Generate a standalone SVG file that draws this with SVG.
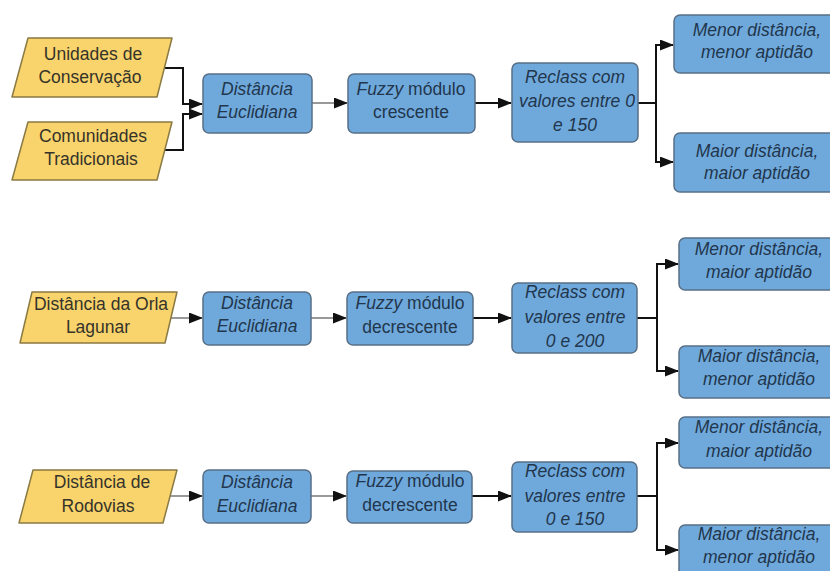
<svg xmlns="http://www.w3.org/2000/svg" width="830" height="571" viewBox="0 0 830 571">
<defs>
<marker id="ah" markerUnits="userSpaceOnUse" markerWidth="14" markerHeight="11" refX="13" refY="5.5" orient="auto">
<path d="M0,0 L14,5.5 L0,11 Z" fill="#111"/>
</marker>
<style>
.b{fill:#6fa9dc;stroke:#586f86;stroke-width:1.5}
.y{fill:#f9d36b;stroke:#8a7a44;stroke-width:1.5;stroke-linejoin:round}
text{font-family:"Liberation Sans",Arial,sans-serif;font-size:17.5px;text-anchor:middle}
.bt{fill:#22364c;font-style:italic}
.bn{fill:#22364c}
.yt{fill:#35342a}
.thin{stroke:#777;stroke-width:1.5;fill:none}
.thick{stroke:#111;stroke-width:2;fill:none}
</style>
</defs>
<rect width="830" height="571" fill="#fff"/>

<g id="connectors">
<path class="thick" d="M164,68 H183 V104 H202" marker-end="url(#ah)"/>
<path class="thick" d="M160,150 H183 V114 H202" marker-end="url(#ah)"/>
<path class="thin" d="M312,103 H347" marker-end="url(#ah)"/>
<path class="thick" d="M475,103 H511" marker-end="url(#ah)"/>
<path class="thick" d="M638,103 H656"/>
<path class="thick" d="M656,45 V162"/>
<path class="thick" d="M655,45 H673" marker-end="url(#ah)"/>
<path class="thick" d="M655,162 H673" marker-end="url(#ah)"/>

<path class="thin" d="M171,318 H202" marker-end="url(#ah)"/>
<path class="thin" d="M311,318 H346" marker-end="url(#ah)"/>
<path class="thick" d="M473,318 H511" marker-end="url(#ah)"/>
<path class="thick" d="M637,318 H657"/>
<path class="thick" d="M657,264 V371"/>
<path class="thick" d="M656,264 H678" marker-end="url(#ah)"/>
<path class="thick" d="M656,371 H678" marker-end="url(#ah)"/>

<path class="thin" d="M170,496 H202" marker-end="url(#ah)"/>
<path class="thin" d="M311,496 H346" marker-end="url(#ah)"/>
<path class="thick" d="M472,496 H511" marker-end="url(#ah)"/>
<path class="thick" d="M637,496 H657"/>
<path class="thick" d="M657,443 V550"/>
<path class="thick" d="M656,443 H678" marker-end="url(#ah)"/>
<path class="thick" d="M656,550 H678" marker-end="url(#ah)"/>
</g>

<g id="uc">
<path class="y" d="M28,38 H172 L157,97 H12 Z"/>
<text class="yt" x="93" y="60">Unidades de</text>
<text class="yt" x="90" y="83">Conservação</text>
</g>
<g id="ct">
<path class="y" d="M28,122 H172 L157,180 H12 Z"/>
<text class="yt" x="93" y="142">Comunidades</text>
<text class="yt" x="91" y="165">Tradicionais</text>
</g>
<g id="de1">
<rect class="b" x="203" y="74" width="109" height="59" rx="6"/>
<text class="bt" x="257" y="95">Distância</text>
<text class="bt" x="257" y="118">Euclidiana</text>
</g>
<g id="fz1">
<rect class="b" x="348" y="74" width="127" height="59" rx="6"/>
<text class="bn" x="411" y="95"><tspan font-style="italic">Fuzzy</tspan> módulo</text>
<text class="bn" x="411" y="118">crescente</text>
</g>
<g id="rc1">
<rect class="b" x="512" y="63" width="126" height="79" rx="6"/>
<text class="bt" x="575" y="83">Reclass com</text>
<text class="bt" x="577" y="107">valores entre 0</text>
<text class="bt" x="575" y="131">e 150</text>
</g>
<g id="mn1">
<rect class="b" x="674" y="15" width="166" height="58" rx="6"/>
<text class="bt" x="757" y="36">Menor distância,</text>
<text class="bt" x="757" y="58">menor aptidão</text>
</g>
<g id="mx1">
<rect class="b" x="674" y="133" width="166" height="59" rx="6"/>
<text class="bt" x="757" y="157">Maior distância,</text>
<text class="bt" x="757" y="179">maior aptidão</text>
</g>

<g id="orla">
<path class="y" d="M32,292 H177 L165,343 H20 Z"/>
<text class="yt" x="101" y="310">Distância da Orla</text>
<text class="yt" x="98" y="333">Lagunar</text>
</g>
<g id="de2">
<rect class="b" x="203" y="292" width="108" height="53" rx="6"/>
<text class="bt" x="257" y="309">Distância</text>
<text class="bt" x="257" y="332">Euclidiana</text>
</g>
<g id="fz2">
<rect class="b" x="347" y="292" width="126" height="53" rx="6"/>
<text class="bn" x="410" y="309"><tspan font-style="italic">Fuzzy</tspan> módulo</text>
<text class="bn" x="410" y="333">decrescente</text>
</g>
<g id="rc2">
<rect class="b" x="512" y="283" width="125" height="70" rx="6"/>
<text class="bt" x="575" y="298">Reclass com</text>
<text class="bt" x="575" y="323">valores entre</text>
<text class="bt" x="575" y="347">0 e 200</text>
</g>
<g id="mn2">
<rect class="b" x="679" y="238" width="161" height="52" rx="6"/>
<text class="bt" x="759" y="255">Menor distância,</text>
<text class="bt" x="759" y="278">maior aptidão</text>
</g>
<g id="mx2">
<rect class="b" x="679" y="346" width="161" height="52" rx="6"/>
<text class="bt" x="759" y="362">Maior distância,</text>
<text class="bt" x="759" y="385">menor aptidão</text>
</g>

<g id="rod">
<path class="y" d="M33,470 H177 L163,523 H19 Z"/>
<text class="yt" x="102" y="488">Distância de</text>
<text class="yt" x="98" y="512">Rodovias</text>
</g>
<g id="de3">
<rect class="b" x="203" y="470" width="108" height="53" rx="6"/>
<text class="bt" x="257" y="488">Distância</text>
<text class="bt" x="257" y="512">Euclidiana</text>
</g>
<g id="fz3">
<rect class="b" x="347" y="471" width="125" height="52" rx="6"/>
<text class="bn" x="410" y="487"><tspan font-style="italic">Fuzzy</tspan> módulo</text>
<text class="bn" x="410" y="511">decrescente</text>
</g>
<g id="rc3">
<rect class="b" x="512" y="462" width="125" height="70" rx="6"/>
<text class="bt" x="575" y="477">Reclass com</text>
<text class="bt" x="575" y="502">valores entre</text>
<text class="bt" x="575" y="525">0 e 150</text>
</g>
<g id="mn3">
<rect class="b" x="679" y="417" width="161" height="51" rx="6"/>
<text class="bt" x="759" y="433">Menor distância,</text>
<text class="bt" x="759" y="457">maior aptidão</text>
</g>
<g id="mx3">
<rect class="b" x="679" y="525" width="161" height="55" rx="6"/>
<text class="bt" x="759" y="540">Maior distância,</text>
<text class="bt" x="759" y="563">menor aptidão</text>
</g>
</svg>
